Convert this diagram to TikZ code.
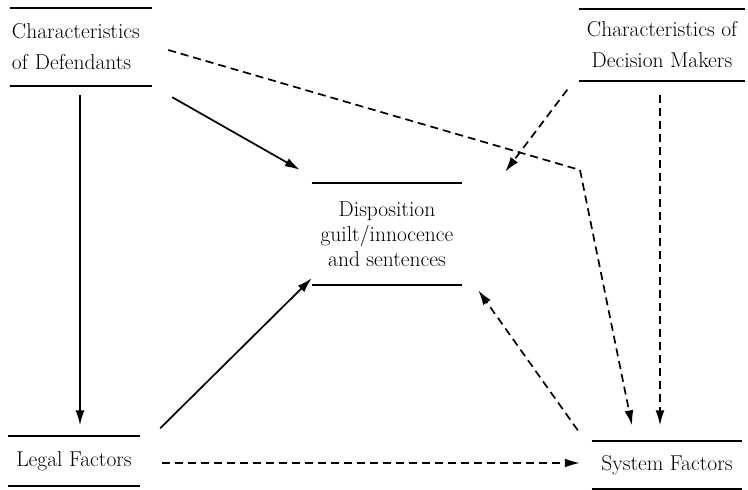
\documentclass[tikz,border=0pt]{standalone}
\usepackage{tikz}
\usetikzlibrary{arrows.meta, positioning}

\tikzset{
  factor/.style={inner sep=0pt, align=center, font=\fontsize{21.5}{31}\selectfont},
  rule/.style={line width=1.8pt},
  link/.style={line width=1.7pt, -{Latex[length=15pt,width=9pt]}},
  dashlink/.style={link, dash pattern=on 8pt off 5pt}
}

\begin{document}
\begin{tikzpicture}[x=1pt,y=-1pt]
\useasboundingbox (0,0) rectangle (748,490);

\node[factor, minimum width=142, minimum height=78, align=left, text width=138] (defendants) at (81,47)
  {Characteristics\\of Defendants};
\node[factor, minimum width=165, minimum height=71] (deciders) at (662,45)
  {Characteristics of\\Decision Makers};
\node[factor, minimum width=150, minimum height=102, font=\fontsize{21.5}{25}\selectfont] (disposition) at (387,234)
  {Disposition\\guilt/innocence\\and sentences};
\node[factor, minimum width=132, minimum height=49] (legal) at (74,461) {Legal Factors};
\node[factor, minimum width=150, minimum height=47] (system) at (667,465) {System Factors};

\foreach \n in {defendants,deciders,disposition,legal,system}
{
\draw[rule] (\n.north west) -- (\n.north east);
\draw[rule] (\n.south west) -- (\n.south east);
}

\coordinate (bend) at (580,170);

\draw[link, shorten <=9pt, shorten >=11pt] ([xshift=-1pt]defendants.south) -- ([xshift=-1pt]defendants.south |- legal.north);
\draw[link] ([xshift=20pt,yshift=-11pt]defendants.south east) -- ([xshift=-12pt,yshift=13pt]disposition.north west);
\draw[dashlink] ([xshift=16pt,yshift=-3pt]defendants.east) -- (bend) -- ([xshift=-35pt,yshift=16pt]system.north);
\draw[dashlink] ([xshift=-12pt,yshift=-9pt]deciders.south west) -- ([xshift=43pt,yshift=11pt]disposition.north east);
\draw[dashlink, shorten <=14pt, shorten >=16pt] ([xshift=-2pt]deciders.south) -- ([xshift=-2pt]deciders.south |- system.north);
\draw[link] ([xshift=20pt,yshift=8pt]legal.north east) -- ([yshift=7pt]disposition.south west);
\draw[dashlink] ([xshift=-14pt,yshift=11pt]system.north west) -- ([xshift=16pt,yshift=-5pt]disposition.south east);
\draw[dashlink, shorten <=22pt, shorten >=12pt] ([yshift=-2pt]legal.east) -- ([yshift=-2pt]legal.east -| system.west);
\end{tikzpicture}
\end{document}
